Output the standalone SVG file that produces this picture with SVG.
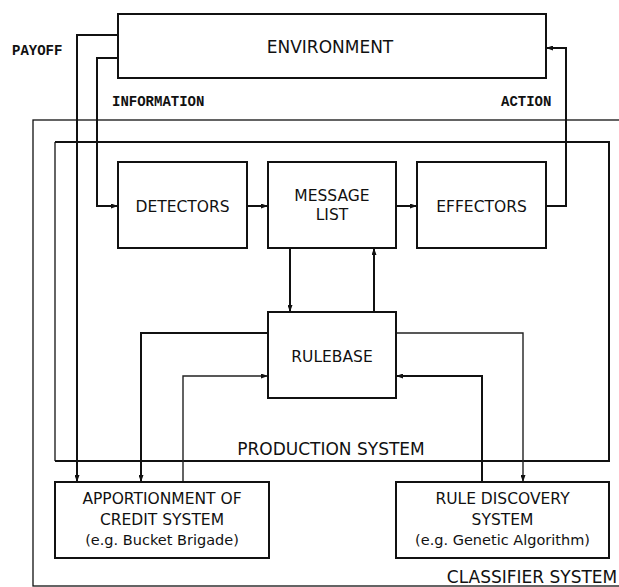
<svg xmlns="http://www.w3.org/2000/svg" width="619" height="587" viewBox="0 0 619 587">
  <style>
    .box { fill: #fff; stroke: #111; stroke-width: 2; }
    .frame { fill: none; stroke: #111; }
    .wire { fill: none; stroke: #111; stroke-width: 2; }
    .thin { fill: none; stroke: #222; stroke-width: 1.4; }
    .lbl { font-family: "DejaVu Sans", "Liberation Sans", sans-serif; font-size: 15.5px; fill: #111; text-anchor: middle; }
    .big { font-size: 17px; }
    .small { font-size: 14.5px; }
    .tt { font-family: "Liberation Mono", "DejaVu Sans Mono", monospace; font-weight: bold; font-size: 14px; fill: #111; }
  </style>
  <defs>
    <marker id="arr" viewBox="0 0 7 5" refX="7" refY="2.5" markerWidth="7" markerHeight="5" markerUnits="userSpaceOnUse" orient="auto">
      <path d="M0,0 L7,2.5 L0,5 z" fill="#111"/>
    </marker>
  </defs>
  <rect width="619" height="587" fill="#fff"/>

  <!-- outer classifier system frame -->
  <g id="classifier-system">
    <rect class="frame" x="33" y="120" width="600" height="466" stroke-width="1.3"/>
    <text class="lbl big" x="532" y="583">CLASSIFIER SYSTEM</text>
  </g>

  <!-- production system frame -->
  <g id="production-system">
    <path class="frame" d="M55,142 H609 V461 H55" stroke-width="2"/>
    <line class="frame" x1="55" y1="142" x2="55" y2="461" stroke-width="1.3"/>
    <text class="lbl big" x="331" y="455">PRODUCTION SYSTEM</text>
  </g>

  <!-- connectors -->
  <g id="connectors">
    <!-- payoff: environment to credit assignment -->
    <path class="wire" d="M118,35 H77 V482" marker-end="url(#arr)"/>
    <!-- information: environment to detectors -->
    <path class="wire" d="M118,58 H97 V206 H118" marker-end="url(#arr)"/>
    <!-- action: effectors to environment -->
    <path class="wire" d="M546,206 H566 V48 H546" marker-end="url(#arr)"/>
    <path class="wire" d="M247,206 H268" marker-end="url(#arr)"/>
    <path class="wire" d="M396,206 H417" marker-end="url(#arr)"/>
    <path class="wire" d="M290,248 V312" marker-end="url(#arr)"/>
    <path class="wire" d="M374,312 V248" marker-end="url(#arr)"/>
    <path class="wire" d="M268,333 H141 V482" marker-end="url(#arr)"/>
    <path class="thin" d="M183,482 V376 H268" marker-end="url(#arr)"/>
    <path class="thin" d="M396,333 H523 V482" marker-end="url(#arr)"/>
    <path class="wire" d="M482,482 V376 H396" marker-end="url(#arr)"/>
  </g>

  <g id="environment">
    <rect class="box" x="118" y="14" width="428" height="64"/>
    <text class="lbl big" x="330" y="53">ENVIRONMENT</text>
  </g>

  <g id="labels">
    <text class="tt" x="12" y="55">PAYOFF</text>
    <text class="tt" x="112" y="106">INFORMATION</text>
    <text class="tt" x="501" y="106">ACTION</text>
  </g>

  <g id="detectors">
    <rect class="box" x="118" y="162" width="129" height="86"/>
    <text class="lbl" x="182.5" y="212">DETECTORS</text>
  </g>

  <g id="message-list">
    <rect class="box" x="268" y="162" width="128" height="86"/>
    <text class="lbl" x="332" y="201">MESSAGE</text>
    <text class="lbl" x="332" y="220">LIST</text>
  </g>

  <g id="effectors">
    <rect class="box" x="417" y="162" width="129" height="86"/>
    <text class="lbl" x="481.5" y="212">EFFECTORS</text>
  </g>

  <g id="rulebase">
    <rect class="box" x="268" y="312" width="128" height="86"/>
    <text class="lbl" x="332" y="362">RULEBASE</text>
  </g>

  <g id="credit-system">
    <rect class="box" x="55" y="482" width="214" height="76"/>
    <text class="lbl" x="162" y="504">APPORTIONMENT OF</text>
    <text class="lbl" x="162" y="525">CREDIT SYSTEM</text>
    <text class="lbl small" x="162" y="545">(e.g.  Bucket Brigade)</text>
  </g>

  <g id="rule-discovery">
    <rect class="box" x="396" y="482" width="213" height="76"/>
    <text class="lbl" x="502.5" y="504">RULE DISCOVERY</text>
    <text class="lbl" x="502.5" y="525">SYSTEM</text>
    <text class="lbl small" x="502.5" y="545">(e.g. Genetic Algorithm)</text>
  </g>
</svg>
